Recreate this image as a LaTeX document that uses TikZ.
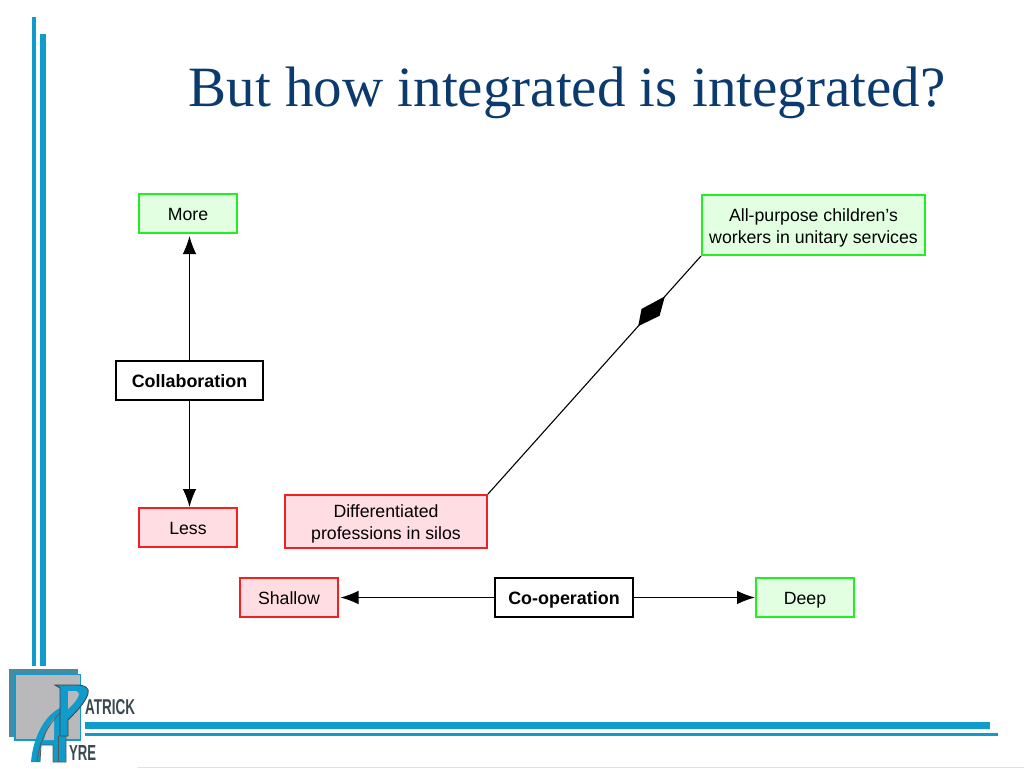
\documentclass[tikz,border=0pt]{standalone}
\usepackage{fontspec}
\setmainfont{Liberation Sans}
\newfontfamily\titlefont{Liberation Serif}
\usetikzlibrary{arrows.meta,decorations.markings}
\definecolor{barblue}{HTML}{0F9BCB}
\definecolor{titleblue}{HTML}{0B3A6E}
\definecolor{goodline}{HTML}{22EE22}
\definecolor{goodfill}{HTML}{E2FFE2}
\definecolor{badline}{HTML}{EE2222}
\definecolor{badfill}{HTML}{FFDDE2}
\definecolor{logoslate}{HTML}{4A8AA0}
\definecolor{logogray}{HTML}{B9B9BB}
\definecolor{logotext}{HTML}{3A4A50}
\tikzset{
  box/.style={rectangle,inner sep=0pt,align=center,font=\fontsize{17.7}{22}\selectfont,line width=2pt,text height=18pt,text depth=4pt},
  twolines/.style={text height=40pt,text depth=4pt},
  goodbox/.style={box,draw=goodline,fill=goodfill},
  badbox/.style={box,draw=badline,fill=badfill},
  axisbox/.style={box,draw=black,fill=white,font=\fontsize{17.9}{22}\selectfont\bfseries},
  link/.style={draw=black,line width=1.1pt,-{Latex[length=18pt,width=13.5pt]}},
  midlink/.style={draw=black,line width=1.1pt,postaction={decorate},
    decoration={markings,mark=at position 0.768 with {\fill[black] (-20pt,0)--(-5pt,9pt)--(20pt,0)--(2pt,-9pt)--cycle;}}},
  bar/.style={fill=barblue,draw=none}
}
\begin{document}
\begin{tikzpicture}[x=1pt,y=-1pt]
\useasboundingbox (0,0) rectangle (1024,768);
% frame bars
\fill[bar] (32,17) rectangle (36,666);
\fill[bar] (39.5,34) rectangle (46,666);
\fill[bar] (85,722) rectangle (990,729);
\fill[bar] (85,732.5) rectangle (998,735.5);
\draw[black!12,line width=0.6pt] (138,767.5) -- (1024,767.5);
% logo
\fill[logoslate] (8.5,669) rectangle (78,737);
\fill[barblue] (14,674) rectangle (81,741);
\fill[logogray] (16,675) rectangle (80,738.5);
\fill[barblue] (31,762) .. controls (33,738) and (44,716) .. (60,708) -- (60,736) -- (66,736)
  -- (66,762) -- (53,762) -- (53,745) -- (41,745) -- (40,762) -- cycle;
\fill[logogray] (44,740) .. controls (46,730) and (50,723) .. (54,718) -- (54,740) -- cycle;
\draw[black!65,line width=0.8pt] (37,762) .. controls (39,742) and (47,726) .. (60,713);
\draw[black!65,line width=0.8pt] (40,762) -- (41,745) -- (53,745) -- (53,762) -- (66,762) -- (66,736);
\draw[black!65,line width=0.8pt] (58,736) -- (58,762);
\draw[black!75,line width=0.8pt,fill=barblue] (55,685) -- (76,685) .. controls (85,685) and (90,688) .. (88,694)
  .. controls (85,703) and (76,712) .. (68,720) -- (68,736) -- (60,736) -- (60,688) -- cycle;
\fill[logogray] (68,691) -- (76,691) .. controls (81,692) and (80,698) .. (68,709) -- cycle;
\node[inner sep=0pt,anchor=west,text=logotext] (patrick) at (85,707)
  {\resizebox{50pt}{15pt}{\bfseries ATRICK}};
\node[inner sep=0pt,anchor=west,text=logotext] (ayre) at (69,752.5)
  {\resizebox{27pt}{15pt}{\bfseries YRE}};
% title
\node[inner sep=0pt,text=titleblue,font=\titlefont\fontsize{57}{60}\selectfont] (title) at (567,93) {But how integrated is integrated?};
% nodes
\node[goodbox,minimum width=98pt,minimum height=39pt] (more) at (188,213.5) {More};
\node[axisbox,minimum width=147pt,minimum height=39pt] (collab) at (189.5,380.5) {Collaboration};
\node[badbox,minimum width=98pt,minimum height=39pt] (less) at (188,527.5) {Less};
\node[badbox,twolines,minimum width=202pt,minimum height=53pt] (silos) at (386,521.5) {Differentiated\\professions in silos};
\node[goodbox,twolines,minimum width=223pt,minimum height=60pt] (allp) at (813.5,225) {All-purpose children\symbol{39}s\\workers in unitary services};
\node[badbox,minimum width=98pt,minimum height=39pt] (shallow) at (289,597.5) {Shallow};
\node[axisbox,minimum width=138pt,minimum height=39pt] (coop) at (564,597.5) {Co-operation};
\node[goodbox,minimum width=98pt,minimum height=39pt] (deep) at (805,597.5) {Deep};
% connectors
\draw[link,shorten >=2pt] (collab.north) -- (collab.north |- more.south);
\draw[link] (collab.south) -- (collab.south |- less.north);
\draw[link,shorten >=1.5pt] (coop.west) -- (shallow.east);
\draw[link] (coop.east) -- (deep.west);
\draw[midlink] (silos.north east) -- (allp.south west);
\end{tikzpicture}
\end{document}
